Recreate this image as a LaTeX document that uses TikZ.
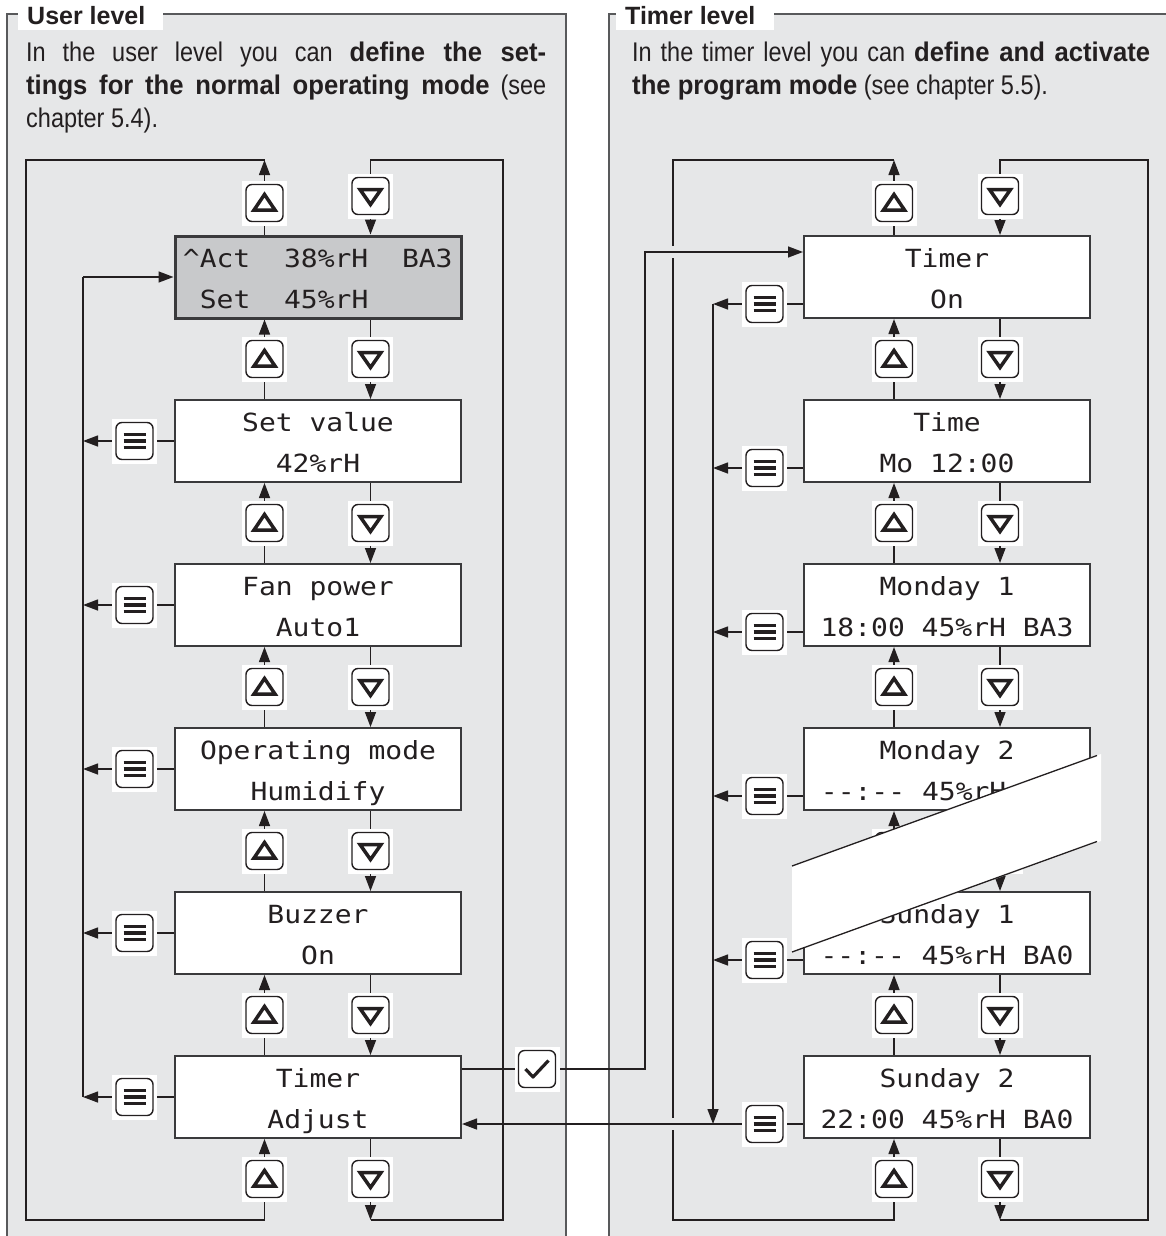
\documentclass[tikz,border=0pt]{standalone}
\usepackage{fontspec}
\usetikzlibrary{arrows.meta}
\newfontfamily\bodyfont{Liberation Sans}[FakeStretch=0.87, BoldFeatures={FakeStretch=0.95}]
\newfontfamily\titlefont{Liberation Sans}
\newfontfamily\lcdfont{DejaVu Sans Mono}[FakeStretch=1.12]
\newcommand\dd{\mbox{-}\mbox{-}}
\newcommand\mkbtn[3]{\node[btnbg] (#2bg) at (#3) {}; \node[#1] (#2) at (#3) {};}
\definecolor{panelgrey}{HTML}{E6E7E8}
\definecolor{lcdgrey}{HTML}{C8C9CB}
\definecolor{ink}{HTML}{231F20}
\definecolor{frameclr}{HTML}{58595B}
\definecolor{boxclr}{HTML}{3A3A3C}
\pgfdeclarelayer{panel}\pgfdeclarelayer{lines}\pgfdeclarelayer{over}
\pgfsetlayers{panel,lines,main,over}
\begin{document}
\begin{tikzpicture}[x=1pt,y=-1pt,
  conn/.style={draw=ink, line width=1.4pt},
  arr/.style={conn, -{Triangle[length=15pt,width=11pt]}},
  lcd/.style={draw=boxclr, line width=2pt, fill=white, minimum width=286pt, minimum height=82pt, inner sep=0pt},
  btnbg/.style={fill=white, minimum size=45pt, inner sep=0pt},
  btn/.style={draw=ink, line width=1.4pt, fill=white, rounded corners=6pt, minimum size=37pt, inner sep=0pt},
  icon/.style={draw=ink, line width=3.5pt, sharp corners, line join=miter},
  bup/.style={btn, path picture={\draw[icon] ([shift={(-10.5,7)}]path picture bounding box.center) -- ([shift={(10.5,7)}]path picture bounding box.center) -- ([shift={(0,-8.5)}]path picture bounding box.center) -- cycle;}},
  bdown/.style={btn, path picture={\draw[icon] ([shift={(-10.5,-6.5)}]path picture bounding box.center) -- ([shift={(10.5,-6.5)}]path picture bounding box.center) -- ([shift={(0,8.5)}]path picture bounding box.center) -- cycle;}},
  bmenu/.style={btn, path picture={\draw[icon, line width=3.2pt] ([shift={(-11,-6.5)}]path picture bounding box.center) -- ([shift={(11,-6.5)}]path picture bounding box.center) ([shift={(-11,0)}]path picture bounding box.center) -- ([shift={(11,0)}]path picture bounding box.center) ([shift={(-11,6.5)}]path picture bounding box.center) -- ([shift={(11,6.5)}]path picture bounding box.center);}},
  bcheck/.style={btn, path picture={\draw[icon, line width=3.2pt, line join=round] ([shift={(-11.5,0)}]path picture bounding box.center) -- ([shift={(-4,8)}]path picture bounding box.center) -- ([shift={(11.5,-8.5)}]path picture bounding box.center);}},
  lcdtxt/.style={font=\lcdfont\fontsize{25}{25}\selectfont, inner sep=0pt, anchor=base, text=ink},
  bodytxt/.style={font=\bodyfont\fontsize{27}{33}\selectfont, inner sep=0pt, anchor=base west, text=ink},
  titletxt/.style={font=\titlefont\bfseries\fontsize{25}{25}\selectfont, inner sep=0pt, anchor=base west, text=ink}
]
\useasboundingbox (0,0) rectangle (1166,1236);

% ---------- panels ----------
\begin{pgfonlayer}{panel}
  \fill[panelgrey] (7,14) rectangle (566,1260);
  \draw[frameclr, line width=1.5pt] (7,1260) -- (7,14) -- (566,14) -- (566,1260);
  \fill[panelgrey] (609,14) rectangle (1190,1260);
  \draw[frameclr, line width=1.5pt] (609,1260) -- (609,14) -- (1190,14);
  \fill[white] (18,-2) rectangle (163,30);
  \fill[white] (616,-2) rectangle (774,30);
\end{pgfonlayer}
\node[titletxt] (utitle) at (27,25) {User level};
\node[titletxt] (ttitle) at (625,25) {Timer level};

\node[bodytxt] (ub1) at (26,62) {\makebox[520pt][s]{In the user level you can \textbf{define the set-}}};
\node[bodytxt] (ub2) at (26,95) {\makebox[520pt][s]{\textbf{tings for the normal operating mode} (see}};
\node[bodytxt] (ub3) at (26,128) {chapter 5.4).};
\node[bodytxt] (tb1) at (632,62) {\makebox[518pt][s]{In the timer level you can \textbf{define and activate}}};
\node[bodytxt] (tb2) at (632,95) {\textbf{the program mode} (see chapter 5.5).};

% ---------- display boxes ----------
\node[lcd, fill=lcdgrey, line width=3pt] (L1) at (318,277) {};
\foreach \i in {2,...,6} {\node[lcd] (L\i) at (318,{277+164*(\i-1)}) {};}
\foreach \i in {1,...,6} {\node[lcd] (R\i) at (947,{277+164*(\i-1)}) {};}

\node[lcdtxt, anchor=base west] (La1) at (182.7,267) {\textasciicircum Act~~38\%rH~~BA3};
\node[lcdtxt, anchor=base west] (Lb1) at (199.6,308) {Set~~45\%rH};
\foreach \i/\a/\b in {2/Set value/42\%rH, 3/Fan power/Auto1, 4/Operating mode/Humidify, 5/Buzzer/On, 6/Timer/Adjust} {
  \node[lcdtxt] (La\i) at (318,{267+164*(\i-1)}) {\a};
  \node[lcdtxt] (Lb\i) at (318,{308+164*(\i-1)}) {\b};
}
\foreach \i/\a/\b in {1/Timer/On, 2/Time/Mo 12:00, 3/Monday 1/18:00 45\%rH BA3, 5/Sunday 1/\dd:\dd{} 45\%rH BA0, 6/Sunday 2/22:00 45\%rH BA0} {
  \node[lcdtxt] (Ra\i) at (947,{267+164*(\i-1)}) {\a};
  \node[lcdtxt] (Rb\i) at (947,{308+164*(\i-1)}) {\b};
}
\node[lcdtxt] (Ra4) at (947,759) {Monday 2};
\node[lcdtxt, anchor=base west] (Rb4) at (820.7,800) {\dd:\dd{} 45\%rH};

% ---------- buttons ----------
\foreach \k/\uy/\dy in {0/203/196,1/359/359,2/523/523,3/687/687,4/851/851,5/1015/1015,6/1179/1179} {
  \mkbtn{bup}{lu\k}{264.5,\uy}
  \mkbtn{bdown}{ld\k}{370.5,\dy}
  \mkbtn{bup}{ru\k}{894,\uy}
  \mkbtn{bdown}{rd\k}{1000,\dy}
}
\foreach \i in {2,...,6} {
  \mkbtn{bmenu}{lm\i}{134.5,{277+164*(\i-1)}}
}
\foreach \i in {1,...,6} {
  \mkbtn{bmenu}{rm\i}{764.5,{304+164*(\i-1)}}
}
\mkbtn{bcheck}{chk}{537,1069}

% ---------- connectors ----------
\coordinate (lTL) at (26,160);  \coordinate (lTR) at (503,160);
\coordinate (lBL) at (26,1220); \coordinate (lBR) at (503,1220);
\coordinate (rTL) at (673,160);  \coordinate (rTR) at (1148,160);
\coordinate (rBL) at (673,1220); \coordinate (rBR) at (1148,1220);
\coordinate (lcol) at (83,0);
\coordinate (rcol) at (713,0);
\coordinate (cV) at (645,252);

\begin{pgfonlayer}{lines}
  \foreach \k [evaluate=\k as \j using int(\k+1)] in {1,...,5} {
    \draw[arr] (lu\k |- L\j.north) -- (lu\k |- L\k.south);
    \draw[arr] (ld\k |- L\k.south) -- (ld\k |- L\j.north);
    \draw[arr] (ru\k |- R\j.north) -- (ru\k |- R\k.south);
    \draw[arr] (rd\k |- R\k.south) -- (rd\k |- R\j.north);
  }
  % left outer loops
  \draw[arr] (lu0 |- L1.north) -- (lu0 |- lTL);
  \draw[arr] (lu0 |- lTL) -- (lTL) -- (lBL) -- (lu6 |- lBL) -- (lu6 |- L6.south);
  \draw[arr] (ld6 |- L6.south) -- (ld6 |- lBR);
  \draw[arr] (ld6 |- lBR) -- (lBR) -- (lTR) -- (ld0 |- lTR) -- (ld0 |- L1.north);
  % right outer loops
  \draw[arr] (ru0 |- R1.north) -- (ru0 |- rTL);
  \draw[arr] (ru0 |- rTL) -- (rTL) -- (rBL) -- (ru6 |- rBL) -- (ru6 |- R6.south);
  \draw[arr] (rd6 |- R6.south) -- (rd6 |- rBR);
  \draw[arr] (rd6 |- rBR) -- (rBR) -- (rTR) -- (rd0 |- rTR) -- (rd0 |- R1.north);
  % gaps where lines cross
  \draw[panelgrey, line width=4pt] (673,246) -- (673,258);
  \draw[panelgrey, line width=4pt] (673,1118) -- (673,1130);
  % left menu returns
  \foreach \i in {2,...,6} {\draw[arr] (L\i.west) -- (L\i.west -| lcol);}
  \draw[conn] (L1.west -| lcol) -- (L6.west -| lcol);
  \draw[arr] (L1.west -| lcol) -- (L1.west);
  % right menu returns
  \foreach \i in {1,...,5} {\draw[arr] (rm\i -| R\i.west) -- (rm\i -| rcol);}
  \draw[arr] (rm1 -| rcol) -- (rm6 -| rcol);
  \draw[arr] (rm6 -| R6.west) -- (rm6 -| L6.east);
  % timer activation
  \draw[arr] (chk -| L6.east) -- (chk -| cV) -- (cV) -- (cV -| R1.west);
\end{pgfonlayer}

% ---------- break marker ----------
\begin{pgfonlayer}{over}
  \fill[white] (792,866) -- (1101,754) -- (1101,841) -- (792,952) -- cycle;
  \draw[ink, line width=1.3pt] (792,866) -- (1097,755.5);
  \draw[ink, line width=1.3pt] (792,952) -- (1097,841.5);
\end{pgfonlayer}
\end{tikzpicture}
\end{document}
